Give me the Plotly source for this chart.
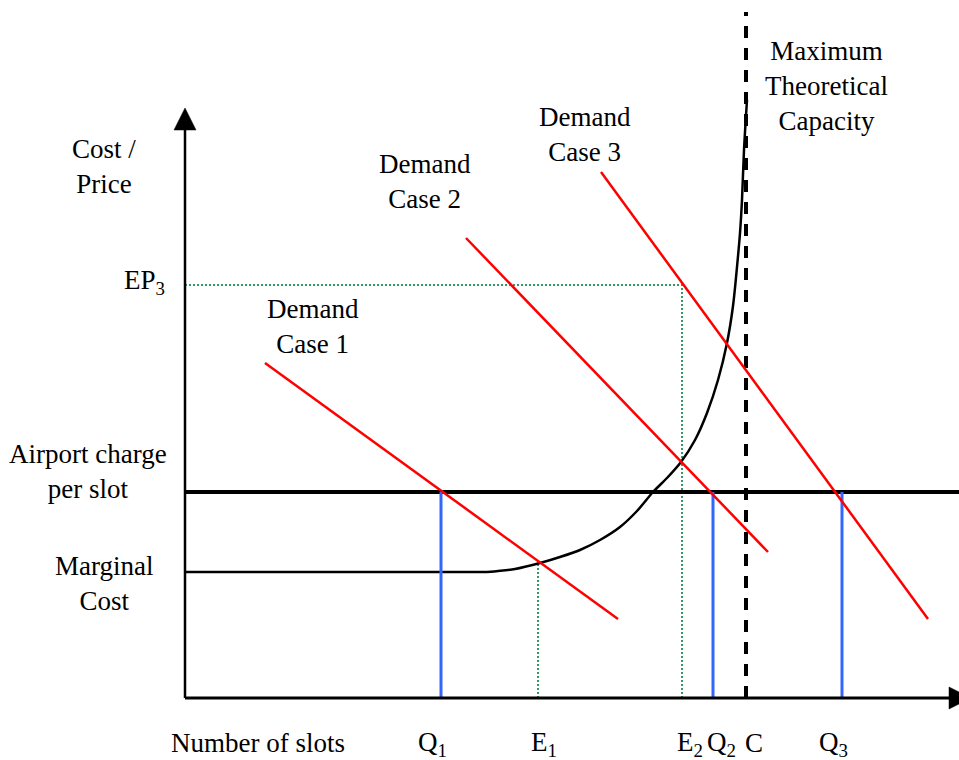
import plotly.graph_objects as go

# ---- data (x: number of slots units, y: cost/price units; origin at axes) ----
x_axis_end = 786
y_axis_end = 590

airport_charge = 206
marginal_cost = 126
ep3 = 413

q1, e1, e2, q2, cap, q3 = 256, 353, 497, 528, 561, 657
cap_top = 686

# marginal cost: flat part then rising curve
mc_flat_end = 302
mc_x = [302, 330, 355, 375, 395, 415, 435, 452, 468, 482, 496, 510, 522, 533, 542, 548, 552, 555, 557, 559, 562]
mc_y = [126, 129, 135, 141, 148, 158, 171, 187, 206, 220, 236, 258, 285, 318, 355, 392, 431, 465, 498, 548, 598]

# demand lines (two endpoints each)
d1_x = [80, 433]
d1_y = [335, 79]
d2_x = [281, 583]
d2_y = [460, 146]
d3_x = [416, 743]
d3_y = [526, 79]

e1_top = 136

FONT = dict(family="Liberation Serif, Times New Roman, serif", size=27, color="black")
RED = "#FF0000"
BLUE = "#3366FF"
GREEN = "#339966"
HEAD = 22  # arrowhead length/width

fig = go.Figure()

def line(x, y, color, width, dash=None, shape="linear", smoothing=1.0):
    fig.add_trace(go.Scatter(x=x, y=y, mode="lines", hoverinfo="skip",
                             line=dict(color=color, width=width, dash=dash, shape=shape,
                                       smoothing=smoothing),
                             showlegend=False))

# green dotted guides
line([0, e2], [ep3, ep3], GREEN, 2, "2px,2px")
line([e2, e2], [0, ep3], GREEN, 2, "2px,2px")
line([e1, e1], [0, e1_top], GREEN, 2, "2px,2px")

# airport charge line
line([0, x_axis_end], [airport_charge, airport_charge], "black", 4)

# marginal cost
line([0, mc_flat_end], [marginal_cost, marginal_cost], "black", 2.5)
line(mc_x, mc_y, "black", 2.5, shape="spline", smoothing=0.8)

# blue quantity lines
for q in (q1, q2, q3):
    line([q, q], [0, airport_charge], BLUE, 3)

# capacity dashed line
line([cap, cap], [0, cap_top], "black", 4, "12px,10px")

# demand lines
line(d1_x, d1_y, RED, 2.5)
line(d2_x, d2_y, RED, 2.5)
line(d3_x, d3_y, RED, 2.5)

# axes
line([0, x_axis_end - HEAD], [0, 0], "black", 3)
line([0, 0], [0, y_axis_end - HEAD], "black", 2.5)
fig.add_trace(go.Scatter(
    x=[x_axis_end - HEAD, x_axis_end, x_axis_end - HEAD, x_axis_end - HEAD],
    y=[-HEAD / 2, 0, HEAD / 2, -HEAD / 2],
    mode="lines", fill="toself", fillcolor="black", line=dict(color="black", width=0.5),
    hoverinfo="skip", showlegend=False))
fig.add_trace(go.Scatter(
    x=[-HEAD / 2, 0, HEAD / 2, -HEAD / 2],
    y=[y_axis_end - HEAD, y_axis_end, y_axis_end - HEAD, y_axis_end - HEAD],
    mode="lines", fill="toself", fillcolor="black", line=dict(color="black", width=0.5),
    hoverinfo="skip", showlegend=False))

annotations = []
labels = [
    ("Cost /<br>Price", -81, 532),
    ("EP<sub>3</sub>", -41, 416),
    ("Demand<br>Case 1", 128, 372),
    ("Demand<br>Case 2", 240, 517),
    ("Demand<br>Case 3", 400, 564),
    ("Maximum<br>Theoretical<br>Capacity", 641, 612),
    ("Airport charge<br>per slot", -97, 227),
    ("Marginal<br>Cost", -81, 115),
    ("Number of slots", 73, -45),
    ("Q<sub>1</sub>", 247, -46),
    ("E<sub>1</sub>", 359, -46),
    ("E<sub>2</sub>", 505, -46),
    ("Q<sub>2</sub>", 536, -46),
    ("C", 569, -45),
    ("Q<sub>3</sub>", 648, -46),
]
for t, x, y in labels:
    annotations.append(dict(text=t, x=x, y=y, xref="x", yref="y", showarrow=False,
                            xanchor="center", yanchor="middle", font=FONT, align="center"))

fig.update_layout(
    width=959, height=760,
    margin=dict(l=0, r=0, t=0, b=0),
    paper_bgcolor="white", plot_bgcolor="white",
    xaxis=dict(range=[-185, 774], visible=False, fixedrange=True),
    yaxis=dict(range=[-62, 698], visible=False, fixedrange=True),
    annotations=annotations,
    showlegend=False,
)

fig.write_html("out.html", config={"displayModeBar": False},
               post_script="document.body.style.margin='0';document.body.style.overflow='hidden';")
